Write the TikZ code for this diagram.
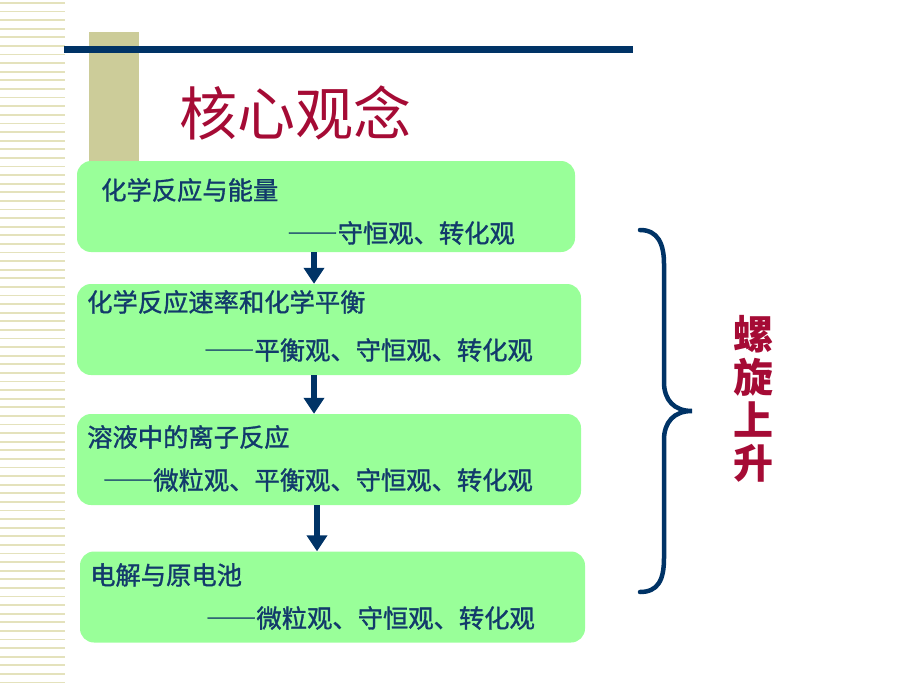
\documentclass[tikz,border=0pt]{standalone}
\usepackage{fontspec}
\newfontfamily\cjk{Noto Sans CJK SC}
\newfontfamily\cjkbox[FakeBold=1.2]{Noto Sans CJK SC}
\usetikzlibrary{arrows.meta,calc}
\definecolor{navy}{HTML}{003366}
\definecolor{boxgreen}{HTML}{99FF99}
\definecolor{titlered}{HTML}{A50B35}
\definecolor{tanbar}{HTML}{CCCC99}
\definecolor{stripe}{HTML}{E4E2BC}
\definecolor{textnavy}{HTML}{123A6B}
\newcommand\longdash{{\addfontfeature{RawFeature=+fwid}——}}
\tikzset{
    topic/.style={fill=boxgreen, rounded corners=14pt, minimum height=91pt, inner sep=0pt},
    head/.style={anchor=west, inner sep=0pt, text=textnavy, font=\cjkbox\fontsize{25.3}{28}\selectfont},
    view/.style={anchor=east, inner sep=0pt, text=textnavy, font=\cjkbox\fontsize{25.3}{28}\selectfont},
    flow/.style={navy, line width=6pt, -{Triangle[width=20pt,length=16pt]}},
}

\begin{document}
\begin{tikzpicture}[x=1pt,y=-1pt]
\useasboundingbox (0,0) rectangle (920,690);
% template decoration
\foreach \y in {3,11.6,...,688}
    \draw[stripe, line width=1.8pt] (0,\y) -- (65,\y);
\fill[tanbar] (89,32) rectangle (139,161);
\fill[navy] (64,46) rectangle (633,53);
\node[titlered, font=\cjk\fontsize{58}{64}\selectfont, inner sep=0pt] (title) at (295,113) {核心观念};

% topic boxes
\node[topic, minimum width=498pt] (b1) at (326,206.5) {};
\node[topic, minimum width=504pt] (b2) at (329,329.5) {};
\node[topic, minimum width=504pt] (b3) at (329,459.5) {};
\node[topic, minimum width=505pt] (b4) at (332.5,597) {};

\node[head] (h1) at (101,190) {化学反应与能量};
\node[view] (v1) at (515,233) {\longdash 守恒观、转化观};
\node[head] (h2) at (87,302) {化学反应速率和化学平衡};
\node[view] (v2) at (533,350) {\longdash 平衡观、守恒观、转化观};
\node[head] (h3) at (87,437) {溶液中的离子反应};
\node[view] (v3) at (533,480) {\longdash 微粒观、平衡观、守恒观、转化观};
\node[head] (h4) at (90,575) {电解与原电池};
\node[view] (v4) at (535,618) {\longdash 微粒观、守恒观、转化观};

% arrows
\coordinate (ax) at (314,0);
\coordinate (bx) at (317,0);
\draw[flow] (b1.south -| ax) -- (b2.north -| ax);
\draw[flow] (b2.south -| ax) -- (b3.north -| ax);
\draw[flow] (b3.south -| bx) -- (b4.north -| bx);

% brace
\draw[navy, line width=4.5pt, line cap=round]
    (640,230) .. controls (658,230) and (664,244) .. (664,264) -- (664,382)
    .. controls (664,400) and (674,411) .. (692,411)
    .. controls (674,411) and (664,422) .. (664,440) -- (664,558)
    .. controls (664,580) and (658,592) .. (640,592);
\node[titlered, font=\cjk\bfseries\fontsize{40}{43}\selectfont, align=center, inner sep=0pt] (spiral) at (753,399) {螺\\旋\\上\\升};
\end{tikzpicture}
\end{document}
